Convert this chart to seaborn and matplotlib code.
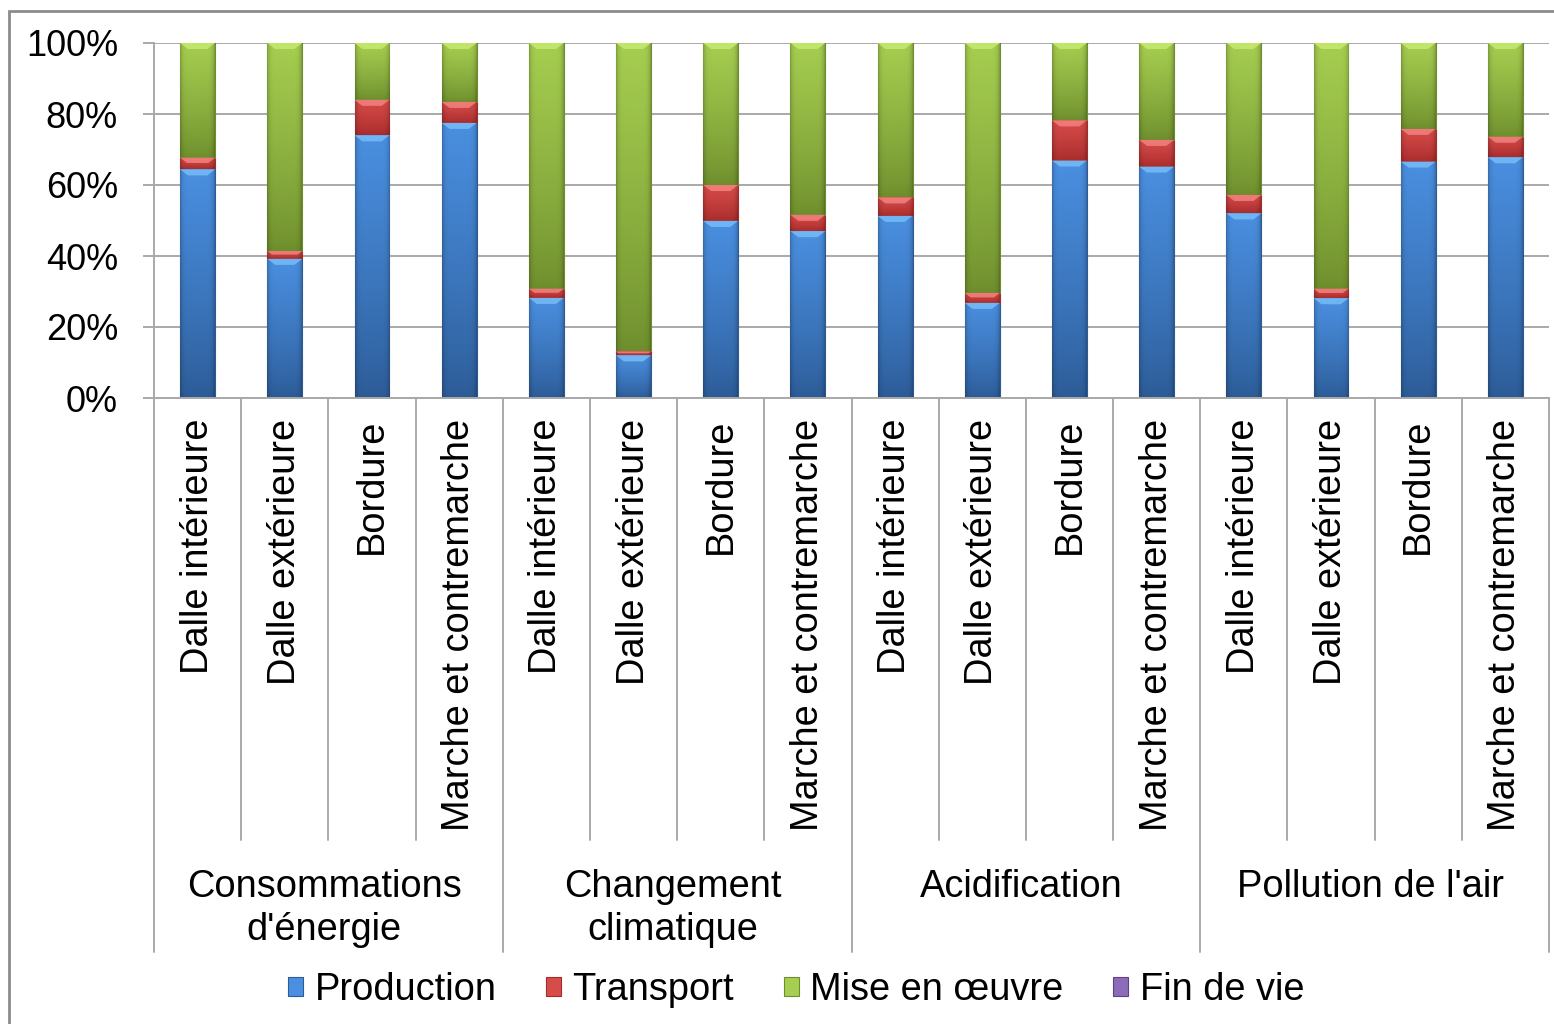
import numpy as np
import pandas as pd
import matplotlib
matplotlib.use("Agg")
import matplotlib.pyplot as plt
import matplotlib.transforms as mtransforms
from matplotlib.patches import Polygon, Rectangle, Patch
from matplotlib.colors import to_rgb
import seaborn as sns

# ---- data (share of each life-cycle stage, %) ----
groups = ["Consommations\nd'énergie", "Changement\nclimatique", "Acidification", "Pollution de l'air"]
elements = ["Dalle intérieure", "Dalle extérieure", "Bordure", "Marche et contremarche"]

production = [64.4, 39.2, 74.0, 77.5,
              28.2, 12.0, 49.9, 47.0,
              51.3, 26.8, 66.9, 65.2,
              52.0, 28.1, 66.6, 67.8]
transport = [3.3, 2.2, 10.0, 5.9,
             2.6, 1.1, 10.1, 4.6,
             5.2, 2.8, 11.3, 7.5,
             5.2, 2.7, 9.2, 5.8]
mise_en_oeuvre = [32.3, 58.6, 16.0, 16.6,
                  69.2, 86.9, 40.0, 48.4,
                  43.5, 70.4, 21.8, 27.3,
                  42.8, 69.2, 24.2, 26.4]
fin_de_vie = [0.0, 0.0, 0.0, 0.0,
              0.0, 0.0, 0.0, 0.0,
              0.0, 0.0, 0.0, 0.0,
              0.0, 0.0, 0.0, 0.0]

series_names = ["Production", "Transport", "Mise en œuvre", "Fin de vie"]
y_ticks = [0, 20, 40, 60, 80, 100]
y_tick_labels = ["0%", "20%", "40%", "60%", "80%", "100%"]

# (light top, dark bottom, highlight) for each stage
series_colors = {
    "Production": ("#4a8fe0", "#2c5b96", "#78bdf7"),
    "Transport": ("#d64c49", "#a82b2b", "#f38280"),
    "Mise en œuvre": ("#a6ce50", "#6e8e2d", "#c6ea6e"),
    "Fin de vie": ("#8c6cb8", "#5e4383", "#b096dc"),
}

# ---- figure ----
sns.set_theme(style="white")
plt.rcParams["font.family"] = ["Liberation Sans", "DejaVu Sans"]
plt.rcParams["text.color"] = "black"
plt.rcParams["xtick.color"] = "black"
plt.rcParams["ytick.color"] = "black"

W, H = 1554, 1024
fig = plt.figure(figsize=(W / 100, H / 100), dpi=100)
fig.patch.set_facecolor("white")

ax_left, ax_right, ax_top, ax_bottom = 154, 1549, 43, 398
ax = fig.add_axes([ax_left / W, 1 - ax_bottom / H,
                   (ax_right - ax_left) / W, (ax_bottom - ax_top) / H])

n_bars = len(production)
idx = np.arange(n_bars)
layers = [production, transport, mise_en_oeuvre, fin_de_vie]

bottom = np.zeros(n_bars)
containers = []
for name, vals in zip(series_names, layers):
    vals = np.asarray(vals, dtype=float)
    df = pd.DataFrame({"pos": idx, "value": vals})
    light, dark, hi = series_colors[name]
    sns.barplot(data=df, x="pos", y="value", bottom=bottom.copy(), width=0.4,
                color=light, saturation=1, errorbar=None, ax=ax,
                edgecolor=dark, linewidth=0.8, zorder=2)
    containers.append((name, ax.containers[-1]))
    bottom = bottom + vals


def shade_bar(patch, light, dark, hi):
    """Paint a vertical gradient with a bevelled top inside one bar segment."""
    x0, y0 = patch.get_xy()
    w, h = patch.get_width(), patch.get_height()
    if h <= 0:
        return
    lt, dk = np.array(to_rgb(light)), np.array(to_rgb(dark))
    t = np.linspace(0, 1, 80)[:, None, None]
    u = np.linspace(-1, 1, 40)[None, :, None]
    base = dk + (lt - dk) * t ** 0.8
    side = 1 - 0.22 * np.abs(u) ** 8
    img = np.clip(base * side, 0, 1)
    im = ax.imshow(img, extent=(x0, x0 + w, y0, y0 + h), origin="lower",
                   aspect="auto", interpolation="bilinear", zorder=2.1)
    im.set_clip_path(patch)
    # top bevel: a lighter trapezoid
    px_y = (ax_bottom - ax_top) / 100.0
    px_x = (ax_right - ax_left) / n_bars
    d_px = min(6.0, h * px_y * 0.45)
    d = d_px / px_y
    e = d_px * 1.3 / px_x
    top = y0 + h
    ax.add_patch(Polygon([(x0, top), (x0 + w, top), (x0 + w - e, top - d), (x0 + e, top - d)],
                         closed=True, facecolor=hi, edgecolor="none", alpha=0.85, zorder=2.2))


for name, cont in containers:
    light, dark, hi = series_colors[name]
    for p in cont.patches:
        shade_bar(p, light, dark, hi)

# ---- axes styling ----
grid_c = "#a9a9a9"
ax.set_xlim(-0.5, n_bars - 0.5)
ax.set_ylim(0, 100)
ax.set_yticks(y_ticks)
ax.set_yticklabels(y_tick_labels, fontsize=26, color="black")
ax.yaxis.grid(True, color=grid_c, linewidth=1.4)
ax.xaxis.grid(False)
ax.set_axisbelow(True)
ax.tick_params(axis="y", length=8, width=1.4, color=grid_c, pad=18, left=True, labelcolor="black")
for side in ["top", "right"]:
    ax.spines[side].set_visible(False)
for side in ["left", "bottom"]:
    ax.spines[side].set_visible(True)
    ax.spines[side].set_color(grid_c)
    ax.spines[side].set_linewidth(1.4)
ax.set_xlabel("")
ax.set_ylabel("")

ax.set_xticks(idx)
ax.set_xticklabels(elements * len(groups), rotation=90, fontsize=27.4, color="black")
ax.tick_params(axis="x", length=0, pad=15, labelcolor="black")

# category separators below the axis
trans = mtransforms.blended_transform_factory(ax.transData, ax.transAxes)
ax_h = ax_bottom - ax_top


def px_to_axes_y(py):
    return (ax_bottom - py) / ax_h


inner_end = px_to_axes_y(840)
outer_end = px_to_axes_y(952)
n_per = len(elements)
for k in range(n_bars + 1):
    xb = k - 0.5
    y_end = outer_end if k % n_per == 0 else inner_end
    ax.plot([xb, xb], [0, y_end], transform=trans, color=grid_c, lw=1.4, clip_on=False)

for g, label in enumerate(groups):
    xc = g * n_per + (n_per - 1) / 2
    ax.text(xc - 0.05, px_to_axes_y(869), label, transform=trans, ha="center", va="top",
            fontsize=27.4, linespacing=1.24, color="black")

# ---- legend ----
handles = [Patch(facecolor=series_colors[n][0], edgecolor=series_colors[n][1], linewidth=0.8)
           for n in series_names]
fig.legend(handles, series_names, loc="center", bbox_to_anchor=(796 / W, 1 - 990 / H),
           ncol=4, frameon=False, fontsize=27.4, handlelength=0.4, handleheight=0.4,
           handletextpad=0.3, columnspacing=1.3, borderpad=0, borderaxespad=0,
           labelcolor="black")

# chart frame
fig.add_artist(Rectangle((9 / W, -0.05), 1.2, 1 - 11 / H + 0.05, transform=fig.transFigure,
                         fill=False, edgecolor="#8c8c8c", linewidth=2))

fig.savefig("out.png", dpi=100, facecolor="white")
